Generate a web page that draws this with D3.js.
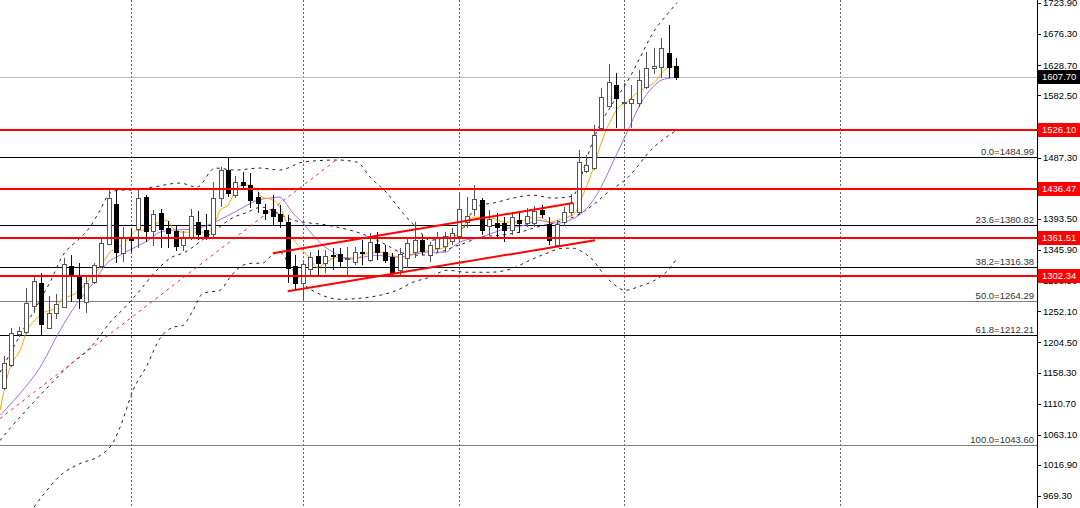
<!DOCTYPE html>
<html>
<head>
<meta charset="utf-8">
<script src="https://cdn.jsdelivr.net/npm/d3@7"></script>
<style>
  body { margin: 0; background: #fff; }
  svg { display: block; font-family: "Liberation Sans", Arial, sans-serif; }
</style>
</head>
<body>
<svg id="chart" width="1080" height="508"></svg>
<script>
// daily candles, oldest first
var opens = [1130.8,1166.1,1213.6,1216.7,1256.6,1291.9,1222.8,1245.9,1255.1,1317.9,
  1301.1,1262.7,1293.4,1317.9,1351.7,1413.0,1337.9,1359.3,1374.7,1423.8,
  1371.6,1399.2,1376.2,1371.6,1350.1,1360.9,1385.4,1373.1,1367.0,1422.2,
  1465.2,1426.8,1446.8,1442.2,1423.8,1403.8,1405.4,1397.7,1385.4,1317.9,
  1291.9,1313.3,1333.3,1322.5,1334.8,1336.3,1328.7,1324.1,1339.4,1327.1,
  1351.7,1339.4,1331.7,1311.8,1330.2,1339.4,1357.8,1334.8,1345.5,1348.6,
  1356.3,1363.9,1385.4,1405.4,1419.2,1379.3,1383.9,1383.9,1373.1,1388.5,
  1383.9,1383.9,1403.8,1382.4,1350.1,1385.4,1400.8,1400.8,1463.6,1468.2,
  1529.6,1563.3,1595.5,1567.9,1567.9,1567.9,1592.5,1621.6,1623.1,1644.6,
  1624.7];
var highs = [1179.9,1222.8,1224.4,1284.2,1301.1,1307.2,1271.9,1275.0,1330.2,1334.8,
  1322.5,1301.1,1322.5,1362.4,1434.5,1434.5,1377.8,1376.2,1436.0,1426.8,
  1403.8,1405.4,1387.0,1380.8,1371.6,1405.4,1402.3,1397.7,1446.8,1469.8,
  1484.99,1456.0,1462.1,1460.6,1431.4,1413.0,1426.8,1411.5,1396.2,1334.8,
  1327.1,1339.4,1342.5,1342.5,1345.5,1345.5,1347.1,1347.1,1357.8,1368.5,
  1370.1,1350.1,1337.9,1345.5,1359.3,1385.4,1365.5,1354.7,1370.1,1370.1,
  1376.2,1431.4,1423.8,1442.2,1422.2,1403.8,1399.2,1393.1,1400.8,1399.2,
  1406.9,1410.0,1411.5,1393.1,1388.5,1408.4,1428.4,1495.8,1488.2,1534.2,
  1590.9,1627.7,1613.9,1598.6,1595.5,1618.5,1646.1,1652.3,1667.6,1687.6,
  1636.9];
var lows = [1127.8,1163.0,1209.0,1213.6,1245.9,1212.1,1221.3,1236.6,1253.5,1262.7,
  1252.0,1245.9,1290.3,1314.9,1350.1,1322.5,1324.1,1339.4,1345.5,1354.7,
  1348.6,1345.5,1345.5,1340.9,1340.9,1357.8,1357.8,1357.8,1362.4,1408.4,
  1423.8,1422.2,1434.5,1406.9,1399.2,1388.5,1380.8,1376.2,1291.9,1281.1,
  1265.8,1304.1,1304.1,1307.2,1311.8,1314.9,1304.1,1319.5,1319.5,1324.1,
  1327.1,1322.5,1304.1,1304.1,1314.9,1330.2,1334.8,1324.1,1337.9,1339.4,
  1350.1,1354.7,1376.2,1394.6,1365.5,1365.5,1360.9,1354.7,1365.5,1368.5,
  1377.8,1377.8,1391.6,1350.1,1347.1,1379.3,1394.6,1396.2,1460.6,1465.2,
  1526.5,1561.8,1529.6,1529.6,1529.6,1561.8,1589.4,1612.4,1606.3,1606.3,
  1603.2];
var closes = [1169.2,1215.2,1218.2,1261.2,1294.9,1229.0,1245.9,1259.7,1321.0,1305.7,
  1268.9,1291.9,1319.5,1353.2,1422.2,1339.4,1362.4,1357.8,1422.2,1371.6,
  1397.7,1374.7,1368.5,1348.6,1362.4,1394.6,1367.0,1363.9,1422.2,1465.2,
  1429.9,1446.8,1442.2,1419.2,1414.6,1399.2,1394.6,1387.0,1314.9,1291.9,
  1321.0,1331.7,1322.5,1333.3,1333.3,1325.6,1330.2,1339.4,1338.6,1354.7,
  1339.4,1327.1,1308.7,1336.3,1353.2,1357.8,1340.9,1350.1,1360.9,1363.9,
  1368.5,1405.4,1394.6,1420.7,1373.1,1390.0,1377.8,1373.1,1393.1,1383.9,
  1394.6,1402.3,1397.7,1357.8,1382.4,1400.8,1414.6,1477.4,1472.8,1518.9,
  1577.1,1600.1,1575.6,1569.5,1574.1,1603.2,1621.6,1624.7,1652.3,1623.1,
  1607.7];

// indicator readings: [bar index, price]
var maFast = [[-0.54,1097.1],[0.8,1163.0],[2.14,1189.1],[3.21,1222.8],[3.88,1232.0],[5.09,1245.9],
  [6.83,1253.5],[7.9,1268.9],[9.11,1273.5],[10.18,1281.1],[11.52,1299.5],[12.86,1316.4],[14.2,1339.4],
  [15.13,1345.5],[16.47,1357.8],[17.81,1373.1],[19.15,1373.1],[20.49,1383.9],[21.83,1388.5],[22.63,1376.2],
  [23.97,1370.1],[25.85,1370.1],[27.19,1370.1],[27.99,1376.2],[28.93,1403.8],[30.0,1411.5],[31.2,1437.6],
  [32.01,1442.2],[32.94,1442.2],[33.88,1434.5],[34.55,1423.8],[36.02,1419.2],[37.36,1399.2],[38.3,1368.5],
  [39.64,1347.1],[40.98,1330.2],[41.92,1316.4],[42.99,1322.5],[44.06,1330.2],[45.0,1331.7],[46.07,1328.7],
  [47.27,1330.2],[48.08,1334.8],[49.42,1339.4],[50.76,1339.4],[51.96,1334.8],[53.03,1331.7],[54.37,1334.8],
  [55.31,1339.4],[57.32,1342.5],[59.06,1347.1],[60.13,1360.9],[61.07,1370.1],[62.14,1388.5],[63.08,1393.1],
  [64.02,1393.1],[65.35,1391.6],[67.1,1385.4],[68.44,1385.4],[69.77,1388.5],[71.11,1393.1],[72.05,1391.6],
  [73.12,1385.4],[74.19,1388.5],[75.53,1393.1],[76.47,1399.2],[77.54,1426.8],[78.75,1462.1],[80.22,1514.2],
  [81.16,1538.8],[82.23,1560.3],[83.47,1569.5],[84.77,1583.3],[86.11,1592.5],[87.18,1600.1],[88.12,1613.9],
  [89.19,1623.1],[90.13,1623.1]];
var maSlow = [[-0.54,1089.4],[2.14,1123.2],[4.82,1163.0],[7.5,1219.8],[9.78,1261.2],[11.92,1291.9],
  [13.79,1322.5],[15.53,1334.8],[17.28,1345.5],[19.15,1356.3],[20.89,1370.1],[22.63,1373.1],[25.31,1374.7],
  [27.32,1380.8],[29.6,1393.1],[31.87,1406.9],[34.02,1419.2],[35.62,1422.2],[36.96,1423.8],[37.63,1416.1],
  [38.7,1399.2],[40.04,1383.9],[41.38,1365.5],[42.72,1350.1],[44.06,1339.4],[45.4,1331.7],[46.74,1330.2],
  [48.08,1331.7],[49.42,1334.8],[51.29,1333.3],[53.03,1331.7],[54.37,1334.8],[55.71,1337.9],[56.38,1339.4],
  [59.06,1339.4],[60.4,1350.1],[61.74,1357.8],[63.48,1360.9],[65.35,1368.5],[67.5,1376.2],[69.77,1380.8],
  [71.51,1388.5],[72.85,1385.4],[74.19,1383.9],[76.07,1390.0],[78.08,1406.9],[79.82,1436.0],[81.56,1477.4],
  [83.47,1523.5],[85.17,1564.9],[86.92,1592.5],[88.12,1603.2],[89.46,1606.3],[90.13,1607.8]];
var bandUpper = [[-0.54,1155.4],[2.14,1212.1],[4.82,1265.8],[6.16,1293.4],[7.9,1334.8],[10.18,1360.9],
  [11.52,1377.8],[12.86,1403.8],[14.2,1429.9],[15.53,1434.5],[16.87,1434.5],[19.95,1439.1],[23.57,1445.2],
  [25.85,1439.1],[28.26,1468.2],[30.94,1465.2],[34.28,1468.2],[36.96,1465.2],[40.04,1477.4],[44.6,1480.5],
  [47.27,1477.4],[49.02,1454.4],[51.29,1429.9],[53.43,1399.2],[55.31,1376.2],[57.05,1357.8],[59.33,1362.4],
  [61.07,1368.5],[62.41,1396.2],[63.75,1411.5],[65.49,1414.6],[68.17,1422.2],[70.85,1426.8],[73.52,1422.2],
  [76.2,1425.3],[77.14,1449.8],[78.08,1483.6],[79.02,1514.2],[79.82,1534.2],[81.56,1567.9],[83.47,1600.1],
  [85.17,1636.9],[86.92,1675.3],[88.79,1702.9],[90.13,1721.3]];
var bandMiddle = [[-0.54,1051.1],[0.8,1069.5],[4.82,1120.1],[8.44,1163.0],[12.19,1201.4],[14.2,1232.0],
  [16.47,1258.1],[18.21,1281.1],[20.22,1308.7],[22.23,1330.2],[24.24,1339.4],[26.52,1357.8],[28.66,1376.2],
  [30.53,1391.6],[32.28,1399.2],[34.55,1408.4],[36.29,1400.8],[38.7,1388.5],[43.26,1380.8],[47.68,1368.5],
  [51.29,1350.1],[53.03,1339.4],[55.31,1334.8],[58.39,1339.4],[60.13,1347.1],[62.01,1354.7],[63.75,1362.4],
  [66.43,1365.5],[69.1,1370.1],[71.38,1377.8],[74.06,1385.4],[76.2,1393.1],[78.88,1411.5],[80.76,1429.9],
  [83.47,1452.9],[86.92,1498.9],[90.13,1526.5]];
var bandLower = [[3.48,940.6],[5.49,971.3],[7.5,997.4],[10.18,1015.8],[12.86,1028.1],[14.6,1048.0],
  [15.53,1071.0],[17.28,1127.8],[19.15,1166.1],[20.89,1207.5],[22.63,1224.4],[23.97,1227.4],[25.31,1250.5],
  [26.65,1276.5],[28.93,1281.1],[30.27,1301.1],[32.01,1319.5],[33.35,1322.5],[34.55,1322.5],[35.89,1334.8],
  [36.96,1339.4],[38.03,1324.1],[38.97,1307.2],[40.04,1291.9],[42.32,1275.0],[45.0,1267.3],[47.68,1268.9],
  [50.36,1273.5],[52.63,1281.1],[54.77,1293.4],[57.05,1301.1],[59.33,1311.8],[62.01,1308.7],[65.09,1308.7],
  [68.17,1314.9],[70.44,1327.1],[72.72,1337.9],[74.86,1345.5],[76.2,1345.5],[77.54,1339.4],[78.88,1327.1],
  [80.22,1307.2],[81.83,1288.8],[83.17,1281.1],[85.17,1287.3],[87.18,1296.5],[88.93,1311.8],[90.13,1330.2]];

// drawn objects
var trendDashed = [[-0.54,1084.8],[45.0,1485.1]];
var channelUpper = [[36.0,1337.9],[76.2,1414.6]];
var channelLower = [[38.0,1279.6],[79.15,1357.8]];
var separators = [17, 40, 61, 83, 112];
var redLevels = [1526.10, 1436.47, 1361.51, 1302.34];
var fibPercents = ["0.0", "23.6", "38.2", "50.0", "61.8", "100.0"];
var fibPrices = [1484.99, 1380.82, 1316.38, 1264.29, 1212.21, 1043.60];
var lastPrice = 1607.70;
var tickValues = [1723.90,1676.30,1628.70,1582.50,1534.90,1487.30,1440.70,1393.50,1345.90,
  1298.90,1252.10,1204.50,1158.30,1110.70,1063.10,1016.90,969.30];

var width = 1080, height = 508, axisX = 1037;
var svg = d3.select("#chart");
var x = d3.scaleLinear().domain([0, 90]).range([4, 676]);
var y = d3.scaleLinear().domain([969.3, 1723.9]).range([494, 1]);
var px = function(v) { return Math.round(v) + 0.5; };

svg.append("defs").append("clipPath").attr("id", "plot")
  .append("rect").attr("x", 0).attr("y", 0).attr("width", axisX).attr("height", height);
var plot = svg.append("g").attr("clip-path", "url(#plot)");

// period separators
plot.selectAll("line.sep").data(separators).enter().append("line")
  .attr("x1", d => px(x(d))).attr("x2", d => px(x(d)))
  .attr("y1", 0).attr("y2", height)
  .attr("stroke", "#666").attr("stroke-dasharray", "2,2");

// fibonacci levels
plot.selectAll("line.fib").data(fibPrices).enter().append("line")
  .attr("x1", 0).attr("x2", axisX)
  .attr("y1", d => px(y(d))).attr("y2", d => px(y(d)))
  .attr("stroke", (d, i) => (i == 3 || i == 5) ? "#808080" : "#000")
  .attr("shape-rendering", "crispEdges");
plot.selectAll("text.fib").data(fibPrices).enter().append("text")
  .attr("x", axisX - 3).attr("y", d => Math.round(y(d)) - 2)
  .attr("text-anchor", "end").attr("font-size", "9.5px").attr("fill", "#333")
  .text((d, i) => fibPercents[i] + "=" + d.toFixed(2));

// current price line
plot.append("line").attr("x1", 0).attr("x2", axisX)
  .attr("y1", px(y(lastPrice))).attr("y2", px(y(lastPrice)))
  .attr("stroke", "#b4bcc4").attr("shape-rendering", "crispEdges");

var line = d3.line().x(d => x(d[0])).y(d => y(d[1])).curve(d3.curveMonotoneX);
var straight = d3.line().x(d => x(d[0])).y(d => y(d[1]));

// bollinger bands
[bandUpper, bandMiddle, bandLower].forEach(function(b) {
  plot.append("path").attr("d", line(b)).attr("fill", "none")
    .attr("stroke", "#222").attr("stroke-dasharray", "3,4");
});
plot.append("path").attr("d", straight(trendDashed)).attr("fill", "none")
  .attr("stroke", "#ff2a2a").attr("stroke-dasharray", "3,4");

// moving averages
plot.append("path").attr("d", line(maSlow)).attr("fill", "none").attr("stroke", "#a070f0");
plot.append("path").attr("d", line(maFast)).attr("fill", "none").attr("stroke", "#ffa500");

// candles
var bars = d3.range(opens.length);
var cg = plot.append("g").attr("shape-rendering", "crispEdges");
cg.selectAll("line.wick").data(bars).enter().append("line")
  .attr("x1", i => px(x(i))).attr("x2", i => px(x(i)))
  .attr("y1", i => Math.round(y(highs[i]))).attr("y2", i => Math.round(y(lows[i])))
  .attr("stroke", i => closes[i] >= opens[i] ? "#555" : "#111");
cg.selectAll("rect.body").data(bars).enter().append("rect")
  .attr("x", i => Math.round(x(i)) - 2 + 0.5)
  .attr("y", i => Math.round(y(Math.max(opens[i], closes[i]))) + 0.5)
  .attr("width", 4)
  .attr("height", i => Math.max(1, Math.round(Math.abs(y(opens[i]) - y(closes[i])))))
  .attr("fill", i => closes[i] >= opens[i] ? "#fff" : "#000")
  .attr("stroke", i => closes[i] >= opens[i] ? "#555" : "#000");

// red levels
plot.selectAll("line.red").data(redLevels).enter().append("line")
  .attr("x1", 0).attr("x2", axisX)
  .attr("y1", d => Math.round(y(d))).attr("y2", d => Math.round(y(d)))
  .attr("stroke", "#ff0000").attr("stroke-width", 2).attr("shape-rendering", "crispEdges");

// channel
[channelUpper, channelLower].forEach(function(c) {
  plot.append("path").attr("d", straight(c)).attr("fill", "none")
    .attr("stroke", "#ff0000").attr("stroke-width", 2);
});

// price axis (labels sit a little below their tick)
var ax = svg.append("g");
ax.append("line").attr("x1", axisX + 0.5).attr("x2", axisX + 0.5).attr("y1", 0).attr("y2", height)
  .attr("stroke", "#000");
ax.selectAll("line.tick").data(tickValues).enter().append("line")
  .attr("x1", axisX).attr("x2", axisX + 4)
  .attr("y1", d => px(y(d) + 2)).attr("y2", d => px(y(d) + 2))
  .attr("stroke", "#000").attr("shape-rendering", "crispEdges");
ax.selectAll("text.tick").data(tickValues).enter().append("text")
  .attr("x", axisX + 6).attr("y", d => y(d) + 2).attr("dy", "0.35em")
  .attr("font-size", "9.5px").attr("fill", "#000")
  .text(d => d.toFixed(2));

var tags = redLevels.map(d => ({v: d, c: "#ff0000"})).concat([{v: lastPrice, c: "#000"}]);
var tg = ax.selectAll("g.tag").data(tags).enter().append("g")
  .attr("transform", d => "translate(" + (axisX + 1) + "," + Math.round(y(d.v)) + ")");
tg.append("rect").attr("x", 0).attr("y", -7).attr("width", 42).attr("height", 14).attr("fill", d => d.c);
tg.append("text").attr("x", 4).attr("y", 0).attr("dy", "0.35em")
  .attr("font-size", "9.5px").attr("fill", "#fff").text(d => d.v.toFixed(2));
</script>
</body>
</html>
